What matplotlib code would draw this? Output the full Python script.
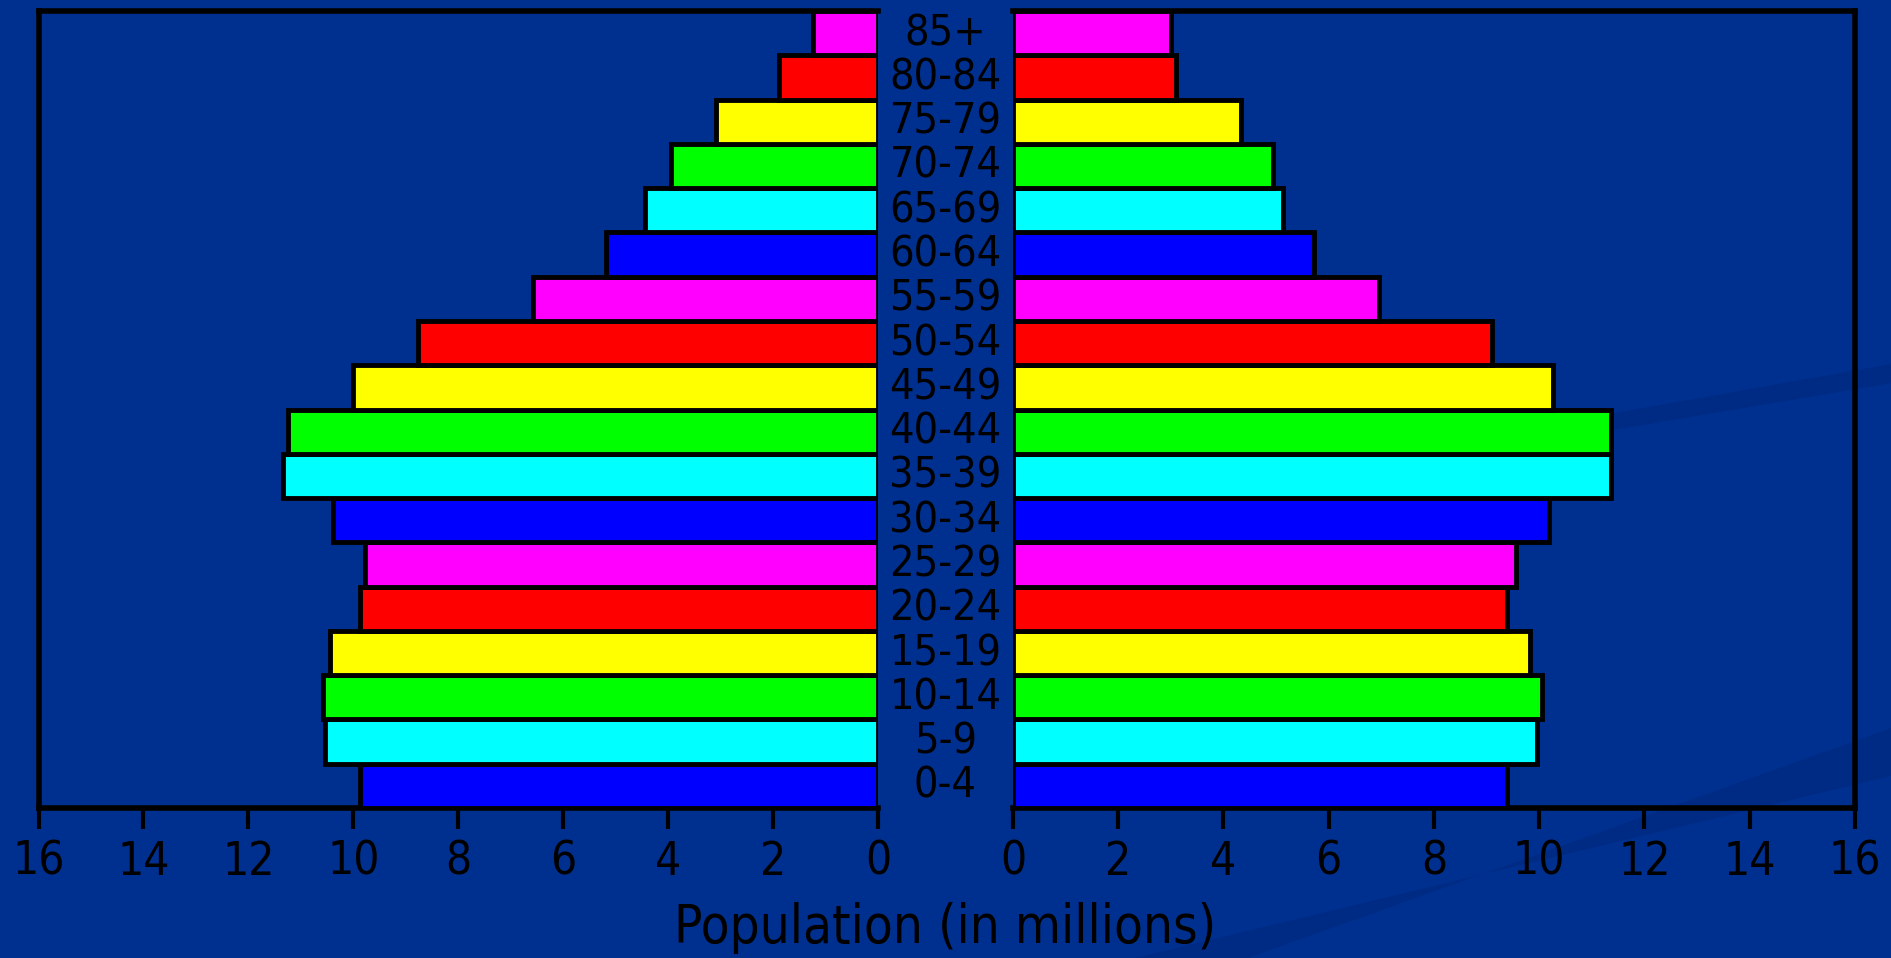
import matplotlib.pyplot as plt
from matplotlib.transforms import blended_transform_factory
from matplotlib.patches import Polygon

ages = ['0-4', '5-9', '10-14', '15-19', '20-24', '25-29', '30-34', '35-39',
        '40-44', '45-49', '50-54', '55-59', '60-64', '65-69', '70-74',
        '75-79', '80-84', '85+']
left_vals = [9.87, 10.54, 10.58, 10.45, 9.87, 9.78, 10.38, 11.34,
             11.25, 10.0, 8.77, 6.57, 5.19, 4.45, 3.95, 3.08, 1.88, 1.24]
right_vals = [9.39, 9.96, 10.06, 9.83, 9.39, 9.55, 10.19, 11.36,
              11.36, 10.26, 9.11, 6.96, 5.72, 5.14, 4.94, 4.34, 3.10, 3.01]
palette = ['#0000ff', '#00ffff', '#00ff00', '#ffff00', '#ff0000', '#ff00ff']
ticks = list(range(0, 17, 2))

bg = '#00308f'
swoosh = '#002b85'
font = ['DejaVu Sans']

fig = plt.figure(figsize=(18.91, 9.58), dpi=100, facecolor=bg)

# faint background swooshes (decoration only)
fig.patches.append(Polygon([[0.60, 0.0], [0.66, 0.0], [1.0, 0.24], [1.0, 0.19]],
                           closed=True, transform=fig.transFigure,
                           facecolor=swoosh, edgecolor='none', zorder=-5))
fig.patches.append(Polygon([[0.80, 0.55], [1.0, 0.62], [1.0, 0.60], [0.82, 0.54]],
                           closed=True, transform=fig.transFigure,
                           facecolor=swoosh, edgecolor='none', zorder=-5))

axL = fig.add_axes([38.5 / 1891, 1 - 808 / 958, (878 - 38.5) / 1891, (808 - 11) / 958])
axR = fig.add_axes([1013 / 1891, 1 - 808 / 958, (1855 - 1013) / 1891, (808 - 11) / 958])

colors = [palette[i % 6] for i in range(len(ages))]
ypos = list(range(len(ages)))

for ax, vals in ((axL, left_vals), (axR, right_vals)):
    ax.set_facecolor('none')
    ax.barh(ypos, vals, height=1.0, color=colors, edgecolor='black', linewidth=3.5, zorder=3)
    ax.set_ylim(-0.5, len(ages) - 0.5)
    ax.set_yticks([])
    ax.set_xticks(ticks)
    ax.set_xticklabels([str(t) for t in ticks], fontsize=33, family=font,
                       stretch='condensed', color='black')
    ax.tick_params(axis='x', direction='out', length=15, width=3, pad=8, color='black')
    for s in ax.spines.values():
        s.set_linewidth(4)
        s.set_color('black')

axL.set_xlim(16, 0)
axR.set_xlim(0, 16)
axL.spines['right'].set_visible(False)
axR.spines['left'].set_visible(False)

trans = blended_transform_factory(fig.transFigure, axL.transData)
for y, lab in zip(ypos, ages):
    axL.text(0.5, y, lab, transform=trans, ha='center', va='center',
             fontsize=31, family=font, stretch='condensed', color='black',
             clip_on=False, zorder=5)

fig.text(0.5, 1 - 928 / 958, 'Population (in millions)', ha='center', va='center',
         fontsize=38, family=font, stretch='condensed', color='black')

fig.savefig('out.png', dpi=100, facecolor=bg)
